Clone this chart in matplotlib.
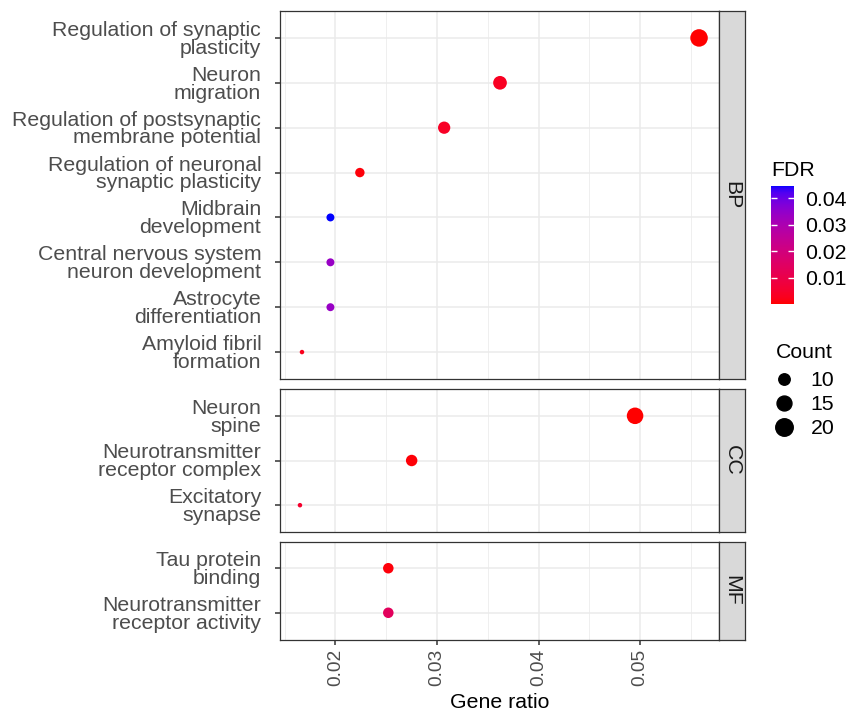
import matplotlib
matplotlib.use("Agg")
import matplotlib.pyplot as plt
import matplotlib.colors as mcolors
from matplotlib.lines import Line2D
import numpy as np

plt.rcParams["font.family"] = ["Liberation Sans", "DejaVu Sans"]

# GO enrichment results, one block per ontology
bp_terms = [
    "Regulation of synaptic\nplasticity",
    "Neuron\nmigration",
    "Regulation of postsynaptic\nmembrane potential",
    "Regulation of neuronal\nsynaptic plasticity",
    "Midbrain\ndevelopment",
    "Central nervous system\nneuron development",
    "Astrocyte\ndifferentiation",
    "Amyloid fibril\nformation",
]
bp_ratio = [0.0558, 0.0362, 0.0307, 0.0224, 0.0195, 0.0195, 0.0195, 0.0167]
bp_count = [20, 13, 11, 8, 7, 7, 7, 6]
bp_fdr = [0.0001, 0.0035, 0.0040, 0.0008, 0.0447, 0.0340, 0.0340, 0.0025]

cc_terms = [
    "Neuron\nspine",
    "Neurotransmitter\nreceptor complex",
    "Excitatory\nsynapse",
]
cc_ratio = [0.0495, 0.0275, 0.0165]
cc_count = [18, 10, 6]
cc_fdr = [0.00002, 0.0006, 0.0050]

mf_terms = [
    "Tau protein\nbinding",
    "Neurotransmitter\nreceptor activity",
]
mf_ratio = [0.0252, 0.0252]
mf_count = [9, 9]
mf_fdr = [0.0008, 0.0135]

ontologies = ["BP", "CC", "MF"]
x_ticks = [0.02, 0.03, 0.04, 0.05]
fdr_ticks = [0.01, 0.02, 0.03, 0.04]
size_breaks = [10, 15, 20]

DPI = 100
W_PX, H_PX = 852, 711
FS = 15.3

# red -> blue gradient interpolated in CIE Lab, like ggplot's scale_colour_gradient
WHITE = np.array([0.95047, 1.0, 1.08883])
M = np.array([[0.4124564, 0.3575761, 0.1804375],
              [0.2126729, 0.7151522, 0.0721750],
              [0.0193339, 0.1191920, 0.9503041]])
M_INV = np.linalg.inv(M)
D = 6 / 29


def to_lab(color):
    rgb = np.array(mcolors.to_rgb(color))
    lin = np.where(rgb <= 0.04045, rgb / 12.92, ((rgb + 0.055) / 1.055) ** 2.4)
    xyz = M @ lin / WHITE
    f = np.where(xyz > D ** 3, np.cbrt(xyz), xyz / (3 * D ** 2) + 4 / 29)
    return np.array([116 * f[1] - 16, 500 * (f[0] - f[1]), 200 * (f[1] - f[2])])


def from_lab(lab):
    fy = (lab[0] + 16) / 116
    f = np.array([fy + lab[1] / 500, fy, fy - lab[2] / 200])
    xyz = np.where(f > D, f ** 3, 3 * D ** 2 * (f - 4 / 29)) * WHITE
    lin = np.clip(M_INV @ xyz, 0, None)
    rgb = np.where(lin <= 0.0031308, 12.92 * lin, 1.055 * lin ** (1 / 2.4) - 0.055)
    return np.clip(rgb, 0, 1)


lo, hi = to_lab("red"), to_lab("blue")
cmap = mcolors.ListedColormap([from_lab(lo + t * (hi - lo)) for t in np.linspace(0, 1, 256)])

all_fdr = bp_fdr + cc_fdr + mf_fdr
all_ratio = bp_ratio + cc_ratio + mf_ratio
all_count = bp_count + cc_count + mf_count
norm = mcolors.Normalize(vmin=min(all_fdr), vmax=max(all_fdr))

cmin, cmax = min(all_count), max(all_count)


def marker_area(count):
    # diameter in pixels, area-scaled between the smallest and largest count
    d_px = 4.5 + 13.0 * np.sqrt((np.asarray(count) - cmin) / (cmax - cmin))
    return (d_px * 72 / DPI) ** 2


xmin, xmax = min(all_ratio), max(all_ratio)
pad = 0.05 * (xmax - xmin)
xlim = (xmin - pad, xmax + pad)

fig = plt.figure(figsize=(W_PX / DPI, H_PX / DPI), dpi=DPI)


def fig_rect(x0, y0, x1, y1):
    return [x0 / W_PX, 1 - y1 / H_PX, (x1 - x0) / W_PX, (y1 - y0) / H_PX]


panel_left, panel_right, strip_right = 280, 719, 745
panel_rows = [(11, 379), (389, 532), (541.5, 639.5)]
blocks = [
    (bp_terms, bp_ratio, bp_count, bp_fdr),
    (cc_terms, cc_ratio, cc_count, cc_fdr),
    (mf_terms, mf_ratio, mf_count, mf_fdr),
]

border = "#333333"
axes = []
for (top, bottom), (terms, ratio, count, fdr), name in zip(panel_rows, blocks, ontologies):
    ax = fig.add_axes(fig_rect(panel_left, top, panel_right, bottom))
    n = len(terms)
    ypos = np.arange(n)
    ax.scatter(ratio, ypos, s=marker_area(count), c=fdr, cmap=cmap, norm=norm,
               linewidths=0, zorder=3)
    ax.set_ylim(n - 0.4, -0.6)
    ax.set_xlim(*xlim)
    ax.set_yticks(ypos)
    ax.set_yticklabels(terms, fontsize=FS, color="#4D4D4D", linespacing=0.92)
    ax.set_xticks(x_ticks)
    ax.set_xticks(np.arange(0.015, 0.0576, 0.01), minor=True)
    ax.grid(True, which="major", color="#EBEBEB", linewidth=1.1, zorder=0)
    ax.grid(True, which="minor", axis="x", color="#EBEBEB", linewidth=0.55, zorder=0)
    ax.set_axisbelow(True)
    ax.tick_params(which="major", length=3.5, width=1.1, color=border, pad=10)
    ax.tick_params(which="minor", length=0)
    for sp in ax.spines.values():
        sp.set_color(border)
        sp.set_linewidth(0.9)

    # facet strip on the right
    strip = fig.add_axes(fig_rect(panel_right, top, strip_right, bottom))
    strip.set_facecolor("#D9D9D9")
    strip.set_xticks([])
    strip.set_yticks([])
    for sp in strip.spines.values():
        sp.set_color(border)
        sp.set_linewidth(0.9)
    strip.text(0.5, 0.5, name, rotation=270, ha="center", va="center",
               fontsize=FS, color="#1A1A1A", transform=strip.transAxes)
    axes.append(ax)

for ax in axes[:-1]:
    ax.tick_params(axis="x", labelbottom=False, length=0)

bottom_ax = axes[-1]
bottom_ax.set_xticklabels([f"{v:.2f}" for v in x_ticks], rotation=90,
                          fontsize=13.8, color="#4D4D4D")
bottom_ax.tick_params(axis="x", pad=3)
bottom_ax.set_xlabel("Gene ratio", fontsize=FS, labelpad=5)

# FDR colourbar
cax = fig.add_axes(fig_rect(771, 186, 794, 304))
sm = plt.cm.ScalarMappable(norm=norm, cmap=cmap)
cb = fig.colorbar(sm, cax=cax, ticks=fdr_ticks)
cb.outline.set_visible(False)
cax.tick_params(direction="in", color="white", length=4.5, width=1,
                left=True, right=True, labelsize=FS, pad=8)
cb.set_ticklabels([f"{v:.2f}" for v in fdr_ticks])
fig.text(771 / W_PX, 1 - 171 / H_PX, "FDR", fontsize=FS, va="center", ha="left")

# Count size legend
fig.text(776 / W_PX, 1 - 352 / H_PX, "Count", fontsize=FS, va="center", ha="left")
handles = [Line2D([], [], linestyle="", marker="o", color="black",
                  markersize=np.sqrt(marker_area(c))) for c in size_breaks]
fig.legend(handles, [str(c) for c in size_breaks],
           loc="upper left", bbox_to_anchor=(769 / W_PX, 1 - 371 / H_PX),
           frameon=False, fontsize=FS, labelspacing=0.24, handletextpad=0.55,
           borderaxespad=0, handlelength=1.4, borderpad=0)

fig.savefig("out.png", dpi=DPI)
